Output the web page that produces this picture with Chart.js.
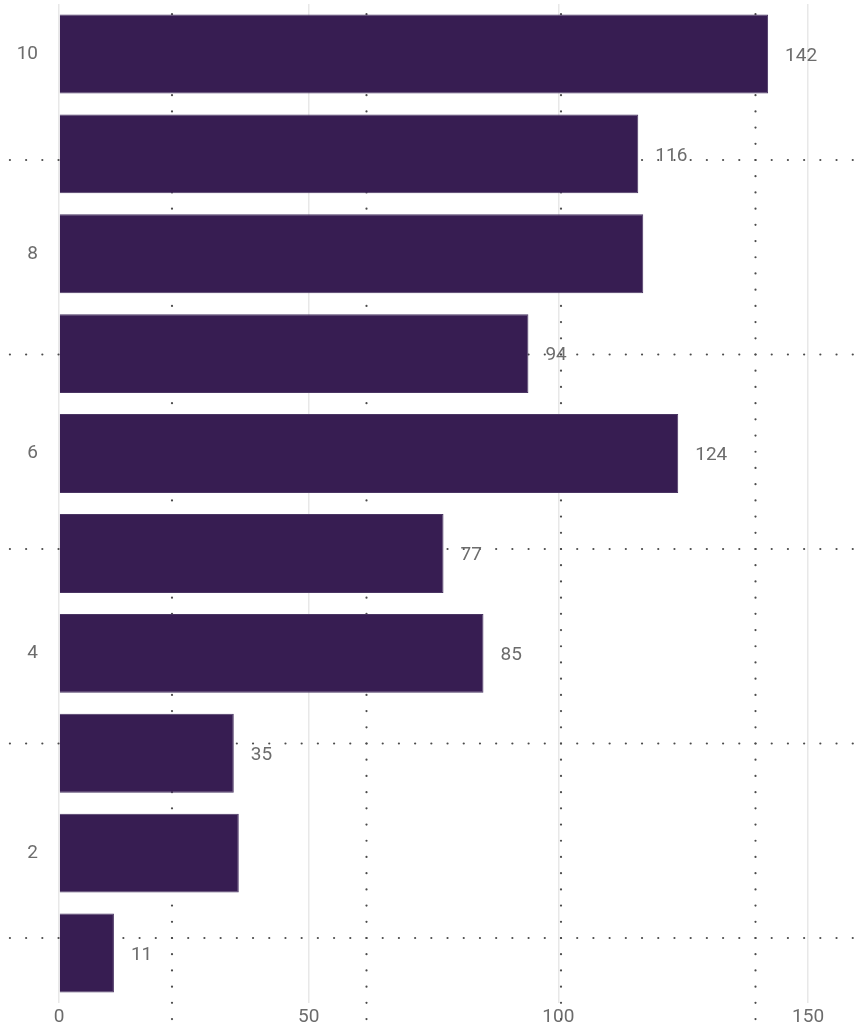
<!DOCTYPE html>
<html>
<head>
<meta charset="utf-8">
<script src="https://cdn.jsdelivr.net/npm/chart.js@4"></script>
<style>
  html, body { margin: 0; padding: 0; background: #fff; }
  #wrap { width: 865px; height: 1032px; }
</style>
</head>
<body>
<div id="wrap"><canvas id="chart1"></canvas></div>
<script>
// dados
const categorias = ['1', '2', '3', '4', '5', '6', '7', '8', '9', '10']
const valores = [11, 36, 35, 85, 77, 124, 94, 117, 116, 142]
const mostrarRotulo = [true, false, true, true, true, true, true, false, true, true]
const ticksX = [0, 50, 100, 150]

const roxo = '#371d52'
const cinzaTexto = '#6c6c6c'
const fonte = 'Roboto'

// grade pontilhada de fundo (padrao do relatorio, nao depende dos dados)
const gradePontilhada = {
  id: 'gradePontilhada',
  beforeDatasetsDraw(chart) {
    const ctx = chart.ctx
    const passo = 194.5
    const dist = passo / 12
    const x0 = -22.5
    const y0 = -34.5
    ctx.save()
    ctx.fillStyle = '#4a4a4a'
    const ponto = (x, y) => {
      ctx.beginPath()
      ctx.arc(x, y, 1.1, 0, Math.PI * 2)
      ctx.fill()
    }
    for (let gx = x0; gx < chart.width; gx += passo) {
      for (let y = y0; y < chart.height; y += dist) ponto(gx, y)
    }
    for (let gy = y0; gy < chart.height; gy += passo) {
      for (let x = x0; x < chart.width; x += dist) ponto(x, gy)
    }
    ctx.restore()
  }
}

const rotulos = {
  id: 'rotulos',
  afterDatasetsDraw(chart) {
    const ctx = chart.ctx
    const meta = chart.getDatasetMeta(0)
    ctx.save()
    ctx.font = '19px ' + fonte
    ctx.fillStyle = cinzaTexto
    ctx.textBaseline = 'middle'
    ctx.textAlign = 'left'
    meta.data.forEach((barra, i) => {
      if (!mostrarRotulo[i]) return
      ctx.fillText(String(valores[i]), barra.x + 17, barra.y + 2)
    })
    ctx.restore()
  }
}

const ctx = document.getElementById('chart1').getContext('2d')

new Chart(ctx, {
  type: 'bar',
  data: {
    labels: categorias,
    datasets: [{
      data: valores,
      backgroundColor: roxo,
      borderColor: '#4a3563',
      borderWidth: 1,
      barPercentage: 0.79,
      categoryPercentage: 1
    }]
  },
  options: {
    indexAxis: 'y',
    responsive: true,
    maintainAspectRatio: false,
    animation: false,
    layout: { padding: { top: 4, right: 7, left: 0, bottom: 0 } },
    plugins: {
      legend: { display: false },
      tooltip: { enabled: false }
    },
    scales: {
      x: {
        min: 0,
        max: 160,
        afterBuildTicks: (scale) => { scale.ticks = ticksX.map(v => ({ value: v })) },
        afterFit: (scale) => { scale.height = 29 },
        grid: { color: '#e8e8e8', lineWidth: 1.5, drawTicks: false },
        border: { display: false },
        ticks: { color: cinzaTexto, font: { family: fonte, size: 19 }, padding: 3 }
      },
      y: {
        reverse: true,
        afterFit: (scale) => {
          scale.width = 59
          scale.paddingTop = 0
          scale.paddingBottom = 0
        },
        grid: { display: false },
        border: { display: false },
        ticks: {
          autoSkip: false,
          color: cinzaTexto,
          font: { family: fonte, size: 19 },
          padding: 13,
          callback: function (v) {
            const rotulo = this.getLabelForValue(v)
            return Number(rotulo) % 2 === 0 ? rotulo : ''
          }
        }
      }
    }
  },
  plugins: [gradePontilhada, rotulos]
})
</script>
</body>
</html>
